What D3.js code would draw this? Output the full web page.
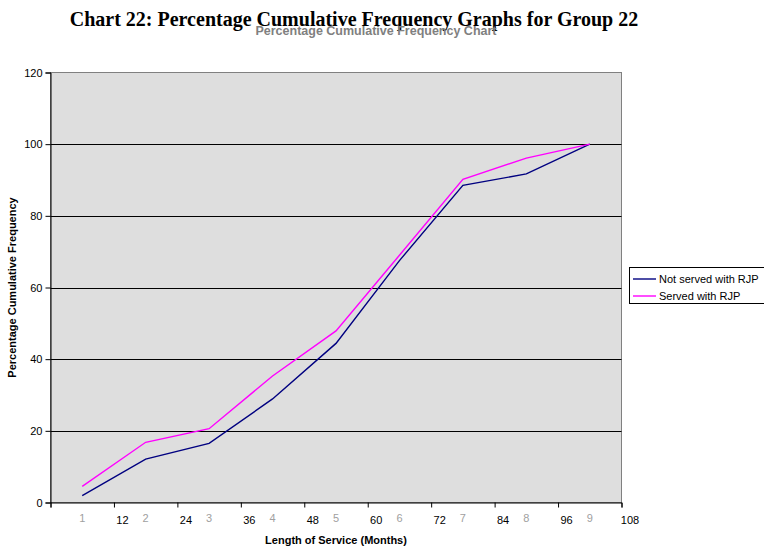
<!DOCTYPE html>
<html>
<head>
<meta charset="utf-8">
<script src="https://cdn.jsdelivr.net/npm/d3@7"></script>
<style>
  html, body { margin: 0; padding: 0; background: #fff; }
  svg { display: block; font-family: "Liberation Sans", Arial, sans-serif; }
</style>
</head>
<body>
<svg id="chart" width="764" height="549"></svg>
<script>
// Data: percentage cumulative frequency per service-length group
const groups = ["1", "2", "3", "4", "5", "6", "7", "8", "9"];
const notServed = [1.9, 12.1, 16.5, 28.9, 44.4, 67.5, 88.5, 91.7, 100];
const served = [4.5, 16.8, 20.6, 35.3, 47.9, 69.0, 90.2, 96.1, 100];
const monthTicks = [0, 12, 24, 36, 48, 60, 72, 84, 96, 108];
const yTicks = [0, 20, 40, 60, 80, 100, 120];
const seriesNames = ["Not served with RJP", "Served with RJP"];
const seriesColors = ["#000080", "#FF00FF"];

const svg = d3.select("#chart");
const plot = { left: 50.5, right: 621.5, top: 72.5, bottom: 502.5 };

const x = d3.scaleLinear().domain([0, 108]).range([plot.left, plot.right]);
const xBand = d3.scaleBand().domain(groups).range([plot.left, plot.right]);
const y = d3.scaleLinear().domain([0, 120]).range([plot.bottom, plot.top]);

// Titles
svg.append("text")
  .attr("x", 354).attr("y", 26)
  .attr("text-anchor", "middle")
  .style("font-family", "'Liberation Serif', 'Times New Roman', serif")
  .style("font-weight", "bold").style("font-size", "20px")
  .text("Chart 22: Percentage Cumulative Frequency Graphs for Group 22");

svg.append("text")
  .attr("x", 376).attr("y", 35)
  .attr("text-anchor", "middle")
  .style("font-weight", "bold").style("font-size", "12.5px")
  .attr("fill", "#808080")
  .text("Percentage Cumulative Frequency Chart");

// Plot area background
svg.append("rect")
  .attr("x", plot.left).attr("y", plot.top)
  .attr("width", plot.right - plot.left).attr("height", plot.bottom - plot.top)
  .attr("fill", "#dedede")
  .attr("stroke", "#808080").attr("stroke-width", 1);

// Horizontal gridlines
svg.append("g")
  .selectAll("line")
  .data(yTicks.filter(d => d > 0 && d < 120))
  .join("line")
  .attr("x1", plot.left).attr("x2", plot.right)
  .attr("y1", d => Math.round(y(d)) + 0.5).attr("y2", d => Math.round(y(d)) + 0.5)
  .attr("stroke", "#000").attr("stroke-width", 1);

// Y axis
const yAxis = svg.append("g")
  .attr("transform", `translate(${plot.left},0)`)
  .call(d3.axisLeft(y).tickValues(yTicks).tickSize(5).tickPadding(3));
yAxis.select(".domain").attr("stroke", "#000");
yAxis.selectAll(".tick line").attr("stroke", "#000");
yAxis.selectAll(".tick text")
  .style("font-size", "11px").style("font-family", "'Liberation Sans', Arial, sans-serif")
  .attr("fill", "#000");

// X axis (months)
const xAxis = svg.append("g")
  .attr("transform", `translate(0,${plot.bottom})`)
  .call(d3.axisBottom(x).tickValues(monthTicks).tickSize(5).tickPadding(0));
xAxis.select(".domain").attr("stroke", "#000");
xAxis.selectAll(".tick line").attr("stroke", "#000");
xAxis.selectAll(".tick text")
  .attr("dx", d => d === 0 ? 0 : 8)
  .attr("y", 14).attr("dy", "0.71em")
  .style("font-size", "11px").style("font-family", "'Liberation Sans', Arial, sans-serif")
  .attr("fill", "#000")
  .text(d => d === 0 ? "" : d);

// Group numbers under each category
svg.append("g")
  .selectAll("text")
  .data(groups)
  .join("text")
  .attr("x", d => xBand(d) + xBand.bandwidth() / 2)
  .attr("y", 522)
  .attr("text-anchor", "middle")
  .style("font-size", "11px")
  .attr("fill", "#a0a0a0")
  .text(d => d);

// Axis titles
svg.append("text")
  .attr("x", (plot.left + plot.right) / 2).attr("y", 544)
  .attr("text-anchor", "middle")
  .style("font-weight", "bold").style("font-size", "11px")
  .text("Length of Service (Months)");

svg.append("text")
  .attr("transform", `translate(16,${(plot.top + plot.bottom) / 2}) rotate(-90)`)
  .attr("text-anchor", "middle")
  .style("font-weight", "bold").style("font-size", "11px")
  .text("Percentage Cumulative Frequency");

// Series lines
const line = d3.line()
  .x((d, i) => xBand(groups[i]) + xBand.bandwidth() / 2)
  .y(d => y(d));

[notServed, served].forEach((vals, k) => {
  svg.append("path")
    .datum(vals)
    .attr("d", line)
    .attr("fill", "none")
    .attr("stroke", seriesColors[k])
    .attr("stroke-width", 1.4)
    .attr("stroke-linejoin", "miter");
});

// Legend
const legend = svg.append("g");
legend.append("rect")
  .attr("x", 629.5).attr("y", 267.5)
  .attr("width", 140).attr("height", 36)
  .attr("fill", "#fff").attr("stroke", "#000").attr("stroke-width", 1);
seriesNames.forEach((name, k) => {
  const ly = 279 + k * 17;
  legend.append("line")
    .attr("x1", 633).attr("x2", 656)
    .attr("y1", ly).attr("y2", ly)
    .attr("stroke", seriesColors[k]).attr("stroke-width", 1.4);
  legend.append("text")
    .attr("x", 659).attr("y", ly + 4)
    .style("font-size", "11px")
    .text(name);
});
</script>
</body>
</html>
